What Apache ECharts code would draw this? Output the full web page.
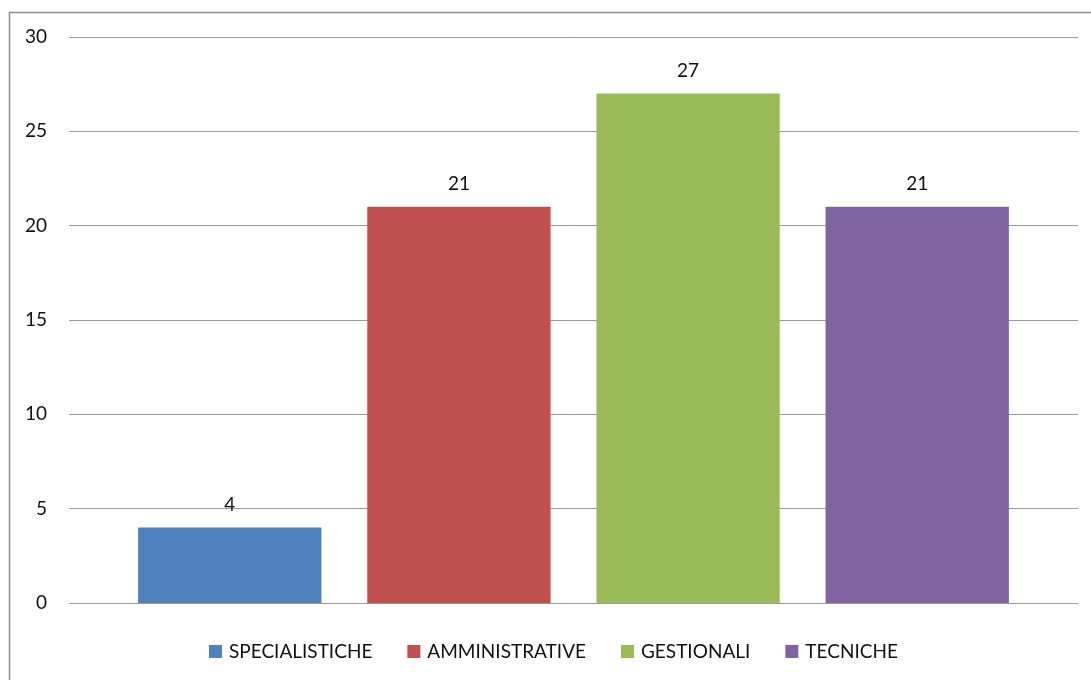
<!DOCTYPE html>
<html>
<head>
<meta charset="utf-8">
<script src="https://cdn.jsdelivr.net/npm/echarts@6/dist/echarts.min.js"></script>
<style>
  html, body { margin: 0; padding: 0; background: #fff; }
  #chart { width: 1091px; height: 680px; }
</style>
</head>
<body>
<div id="chart"></div>
<script>
// Competence areas and their counts
const categories = [''];
const seriesNames = ['SPECIALISTICHE', 'AMMINISTRATIVE', 'GESTIONALI', 'TECNICHE'];
const seriesValues = [4, 21, 27, 21];
const seriesColors = ['#4F81BD', '#C0504D', '#9BBB59', '#8064A2'];
const yTicks = { min: 0, max: 30, interval: 5 };

const fontFamily = 'Lato, "Open Sans", sans-serif';
const textColor = '#111';

const chart = echarts.init(document.getElementById('chart'));

const series = seriesNames.map((name, i) => ({
  name: name,
  type: 'bar',
  data: [seriesValues[i]],
  itemStyle: { color: seriesColors[i] },
  barGap: '25%',
  barCategoryGap: '13.7%',
  label: {
    show: true,
    position: 'top',
    distance: 13,
    color: textColor,
    fontSize: 19,
    fontFamily: fontFamily
  }
}));

chart.setOption({
  animation: false,
  backgroundColor: '#fff',
  graphic: [{
    type: 'rect',
    shape: { x: 9.5, y: 12.5, width: 1100, height: 700 },
    style: { fill: 'none', stroke: '#8c8c8c', lineWidth: 1.5 },
    silent: true,
    z: -1
  }],
  grid: { left: 69, right: 13, top: 37, bottom: 77, containLabel: false },
  legend: {
    data: seriesNames,
    top: 637,
    left: 204,
    icon: 'rect',
    itemWidth: 13,
    itemHeight: 13,
    itemGap: 35,
    textStyle: { color: textColor, fontSize: 19, fontFamily: fontFamily, padding: [0, 0, 0, 2] }
  },
  xAxis: {
    type: 'category',
    data: categories,
    axisLine: { show: false },
    axisTick: { show: false },
    axisLabel: { show: false }
  },
  yAxis: {
    type: 'value',
    min: yTicks.min,
    max: yTicks.max,
    interval: yTicks.interval,
    axisLine: { show: false },
    axisTick: { show: false },
    axisLabel: { color: textColor, fontSize: 19, fontFamily: fontFamily, margin: 22 },
    splitLine: { lineStyle: { color: '#9a9a9a', width: 1 } }
  },
  series: series
});
</script>
</body>
</html>
